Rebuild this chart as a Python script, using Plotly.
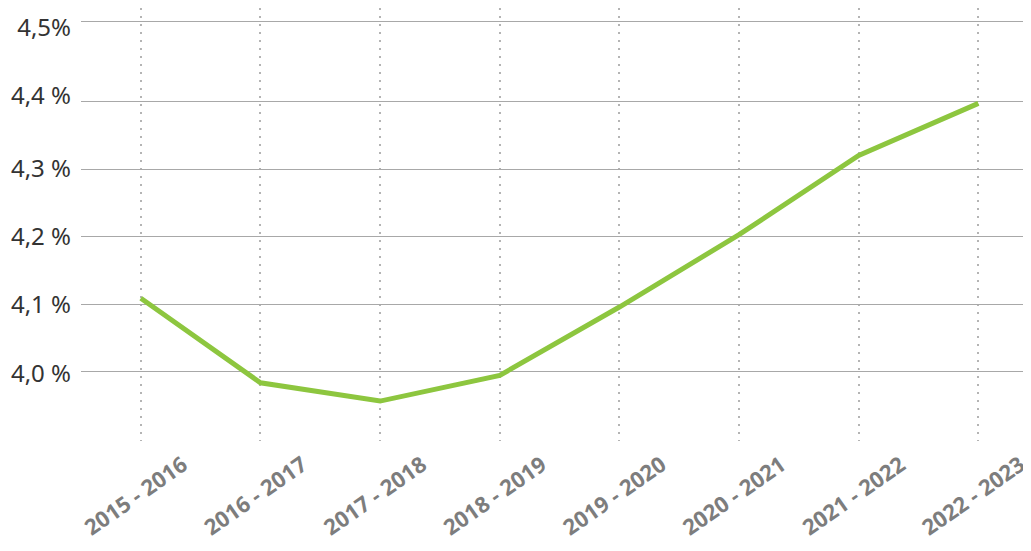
import plotly.graph_objects as go

# Données
periodes = ["2015 - 2016", "2016 - 2017", "2017 - 2018", "2018 - 2019",
            "2019 - 2020", "2020 - 2021", "2021 - 2022", "2022 - 2023"]
taux = [4.109, 3.984, 3.957, 3.995, 4.096, 4.203, 4.320, 4.397]

# lignes de grille horizontales
grille_y = [4.0, 4.1, 4.2, 4.3, 4.4, 4.5185]
# étiquettes de l'axe (légèrement décalées comme dans l'original)
etiq_y_pos = [3.998, 4.099, 4.2, 4.3, 4.409, 4.5096]
etiq_y = ["4,0 %", "4,1 %", "4,2 %", "4,3 %", "4,4 %", "4,5%"]

y_range = [3.898, 4.538]

fig = go.Figure()

fig.add_trace(go.Scatter(
    x=periodes, y=taux, mode='lines',
    line=dict(color='#8dc63f', width=5),
    showlegend=False, hoverinfo='skip'
))

# la page ajoute 8px de marge autour du graphique
fig.update_layout(
    width=1023, height=543,
    margin=dict(l=73, r=0, t=0, b=110),
    paper_bgcolor='white', plot_bgcolor='white',
    font=dict(family='Noto Sans, sans-serif', color='#333333'),
    yaxis2=dict(
        overlaying='y', side='left', range=y_range, automargin=False,
        tickvals=etiq_y_pos, ticktext=etiq_y,
        showgrid=False, zeroline=False, showline=False, ticks='',
        ticklabelstandoff=9, ticklabeloverflow='allow',
        tickfont=dict(family='Noto Sans, sans-serif', size=24, color='#333333'),
    ),
)

# trace invisible pour activer l'axe des étiquettes
fig.add_trace(go.Scatter(
    x=periodes, y=taux, yaxis='y2', mode='lines',
    line=dict(width=0), opacity=0,
    showlegend=False, hoverinfo='skip'
))

fig.update_xaxes(
    type='category', range=[-0.5, 7.44], automargin=False,
    showgrid=True, gridcolor='#b4b4b4', gridwidth=2, griddash='2px,6px',
    zeroline=False, showline=False, ticks='',
    tickangle=-35, ticklabelshift=42, ticklabelstandoff=6,
    ticklabeloverflow='allow',
    tickfont=dict(family='Open Sans, sans-serif', size=22, color='#7d7d7d', weight='bold'),
)

fig.update_yaxes(
    selector=dict(overlaying=None),
    range=y_range, automargin=False,
    tickvals=grille_y, showticklabels=False,
    showgrid=True, gridcolor='#a8a8a8', gridwidth=1,
    zeroline=False, showline=False, ticks='',
)

fig.write_html("out.html")
